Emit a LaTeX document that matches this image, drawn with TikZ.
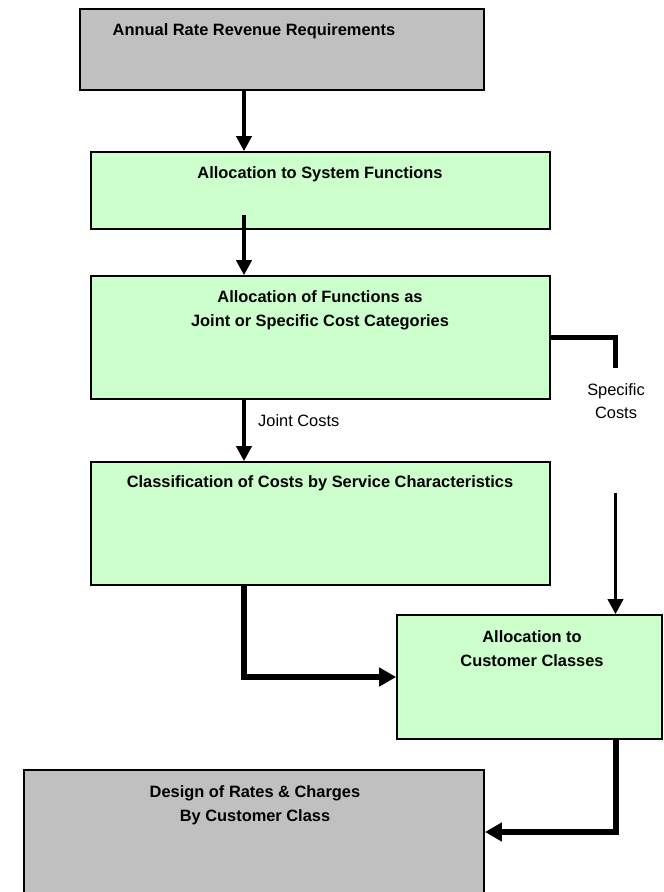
\documentclass[tikz,border=0pt]{standalone}
\usepackage{fontspec}
\setmainfont{Liberation Sans}
\usetikzlibrary{arrows.meta}
\definecolor{boxgray}{HTML}{C0C0C0}
\definecolor{boxgreen}{HTML}{CCFFCC}
\begin{document}
\begin{tikzpicture}[x=1pt,y=-1pt,
  graybox/.style={draw=black,line width=1.8pt,fill=boxgray,rectangle,inner sep=0pt},
  greenbox/.style={draw=black,line width=1.6pt,fill=boxgreen,rectangle,inner sep=0pt},
  boxtext/.style={anchor=base,align=center,inner sep=0pt,font=\fontsize{16.4}{23.5}\selectfont\bfseries},
  lbltext/.style={anchor=base,align=center,inner sep=0pt,font=\fontsize{16.4}{23}\selectfont},
  thinarrow/.style={line width=4pt,-{Triangle[width=15pt,length=15pt]}},
  thickarrow/.style={line width=6pt,-{Triangle[width=18pt,length=17pt]}},
  plainline/.style={line width=5pt}]
\useasboundingbox (0,0) rectangle (664,892);
\clip (0,0) rectangle (664,892);
\fill[white] (0,0) rectangle (664,892);
% boxes
\node[graybox,minimum width=404pt,minimum height=81pt] (b1) at (282,49.5) {};
\node[greenbox,minimum width=459pt,minimum height=77pt] (b2) at (320.5,190.5) {};
\node[greenbox,minimum width=459pt,minimum height=123pt] (b3) at (320.5,337.5) {};
\node[greenbox,minimum width=459pt,minimum height=123pt] (b4) at (320.5,523.5) {};
\node[greenbox,minimum width=265pt,minimum height=124pt] (b5) at (529.5,677) {};
\node[graybox,minimum width=460pt,minimum height=140pt] (b6) at (254,840) {};
% texts (anchor base = baseline of last line)
\node[boxtext] (t1) at (254,35) {Annual Rate Revenue Requirements};
\node[boxtext] (t2) at (320,178) {Allocation to System Functions};
\node[boxtext] (t3) at (320,326) {Allocation of Functions as\\Joint or Specific Cost Categories};
\node[boxtext] (t4) at (320,487) {Classification of Costs by Service Characteristics};
\node[boxtext] (t5) at (532,666) {Allocation to\\Customer Classes};
\node[boxtext] (t6) at (255,821) {Design of Rates \& Charges\\By Customer Class};
\node[lbltext,anchor=base west] (lj) at (258,426) {Joint Costs};
\node[lbltext] (ls) at (616,418) {Specific\\Costs};
% helper coordinates
\coordinate (xl) at (244,0);
\coordinate (xr) at (615.5,0);
\coordinate (s2) at (244,215);
\coordinate (sp1) at (615.5,368);
\coordinate (sp2) at (615.5,493);
\coordinate (e5) at (244,677);
\coordinate (e6) at (615.5,832);
% connectors
\draw[thinarrow] (b1.south -| xl) -- (b2.north -| xl);
\draw[thinarrow] (s2) -- (b3.north -| xl);
\draw[thinarrow] (b3.south -| xl) -- (b4.north -| xl);
\draw[plainline] (b3.east |- 0,337) -| (sp1);
\draw[line width=3.5pt,-{Triangle[width=15pt,length=15pt]}] (sp2) -- (b5.north -| xr);
\draw[thickarrow] (b4.south -| xl) -- (e5) -- (b5.west |- e5);
\draw[thickarrow] (b5.south -| xr) -- (e6) -- (b6.east |- e6);
\end{tikzpicture}
\end{document}
